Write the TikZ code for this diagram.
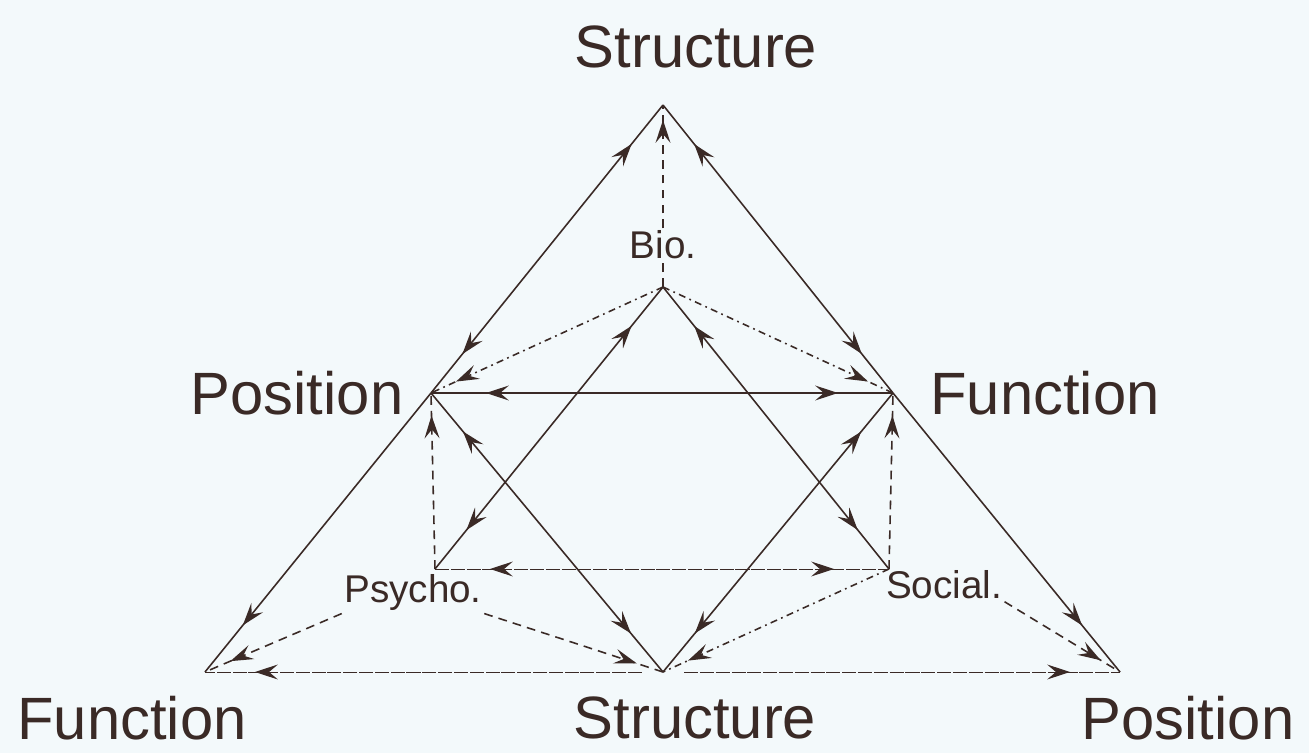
\documentclass[tikz,border=0pt]{standalone}
\usepackage{fontspec}
\setmainfont{Liberation Sans}
\usepackage{xcolor}
\usepackage{tikz}
\usetikzlibrary{arrows.meta,decorations.markings}
\definecolor{inkbrown}{HTML}{3A2A26}
\definecolor{paperbg}{HTML}{F3F9FB}
\tikzset{
  hd/.tip={Stealth[length=13pt,width=8.5pt,inset=5pt]},
  twoway/.style={postaction={decorate,decoration={markings,
      mark=at position #1 with {\arrowreversed{hd}},
      mark=at position -#1 with {\arrow{hd}}}}},
  twoway/.default=1cm,
  oneway/.style={postaction={decorate,decoration={markings,
      mark=at position -#1 with {\arrow{hd}}}}},
  oneway/.default=1cm,
  dsh/.style={dash pattern=on 5pt off 3.5pt},
  dshdot/.style={dash pattern=on 4pt off 2.5pt on 1pt off 2.5pt},
  fine/.style={line width=.55pt,dash pattern=on 8pt off 1pt},
  biglab/.style={font=\fontsize{34}{38}\selectfont,inner sep=1pt},
  smalllab/.style={font=\fontsize{22}{24}\selectfont,inner sep=1pt},
}

\begin{document}
\begin{tikzpicture}[x=.02cm,y=-.02cm,color=inkbrown,line width=.9pt]
\fill[paperbg] (0,0) rectangle (1309,753);
\useasboundingbox (0,0) rectangle (1309,753);
% corners of the big triangle
\coordinate (T) at (663,105); \coordinate (PL) at (431,393); \coordinate (FR) at (893,393);
\coordinate (BL) at (205,672); \coordinate (B) at (663,672); \coordinate (BR) at (1120,672);
% inner points
\coordinate (Bio) at (663,287); \coordinate (Psy) at (435,569); \coordinate (Soc) at (889,569);
% labels
\node[biglab] (structtop) at (696,47) {Structure};
\node[biglab] (posleft) at (297,393) {Position};
\node[biglab] (funcright) at (1045,393) {Function};
\node[biglab] (funcbot) at (132,718) {Function};
\node[biglab] (structbot) at (695,718) {Structure};
\node[biglab] (posbot) at (1188,718) {Position};
\node[smalllab] (biolab) at (663,245) {Bio.};
\node[smalllab] (psylab) at (413,593) {Psycho.};
\node[smalllab] (soclab) at (944,585) {Social.};
% outer triangle
\draw[twoway] (PL) -- (T);
\draw[twoway] (FR) -- (T);
\draw[oneway=1.2cm] (PL) -- (BL);
\draw[oneway=1.2cm] (FR) -- (BR);
\draw[twoway=1.1cm,line width=.7pt] (PL) -- (FR);
\draw[fine,oneway,shorten <=12pt] (B) -- (BL);
\draw[fine,oneway,shorten <=12pt] (B) -- (BR);
% inner diamond
\draw[twoway] (Psy) -- (Bio);
\draw[twoway] (Soc) -- (Bio);
\draw[twoway] (B) -- (PL);
\draw[twoway] (B) -- (FR);
% dashed links
\draw[dsh,oneway=.3cm] (biolab.north) -- (T);
\draw[dsh] (Bio) -- (biolab.south);
\draw[dshdot,oneway=.55cm] (Bio) -- (PL);
\draw[dshdot,oneway=.55cm] (Bio) -- (FR);
\draw[dsh,oneway=.45cm] (Psy) -- (PL);
\draw[dsh,oneway=.45cm] (Soc) -- (FR);
\draw[fine,twoway=1.1cm] (Psy) -- (Soc);
\draw[dsh,oneway=.55cm] (psylab.south west) -- (BL);
\draw[dsh,oneway=.55cm] (psylab.south east) -- (B);
\draw[dshdot,oneway=.55cm] (Soc) -- (B);
\draw[dsh,oneway=.45cm] (soclab.south east) -- (BR);
\end{tikzpicture}
\end{document}
